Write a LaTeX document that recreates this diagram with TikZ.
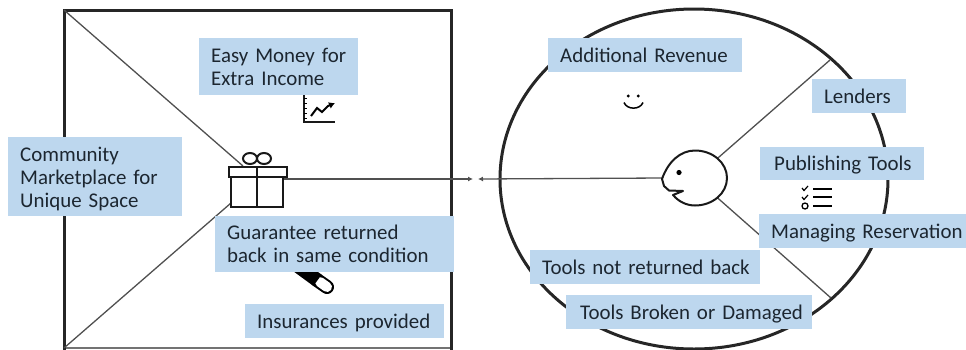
\documentclass[tikz,border=0pt]{standalone}
\usepackage{fontspec}
\setmainfont{Carlito}
\usetikzlibrary{arrows.meta,shapes.geometric}
\definecolor{boxblue}{HTML}{BDD7EE}
\definecolor{inktext}{HTML}{1C2630}
\definecolor{linegrey}{HTML}{505050}
\newcommand{\ind}{\hspace*{12pt}}
\newcommand{\topup}{\rule{0pt}{19pt}}
\tikzset{
  infobox/.style={fill=boxblue,draw=none,anchor=north west,inner xsep=0pt,inner ysep=0pt,align=left,
    text=inktext,font=\fontsize{20.9}{23}\selectfont},
  oneline/.style={infobox,text depth=0pt},
  thinlink/.style={draw=linegrey,line width=1.3pt},
  frameline/.style={draw=black!85,line width=3pt},
  icon/.style={draw=black!90,line width=2pt},
}
\begin{document}
\begin{tikzpicture}[x=1pt,y=-1pt]
\useasboundingbox (0,0) rectangle (966,349);
% named frame points
\coordinate (nw) at (64,10);
\coordinate (ne) at (451,10);
\coordinate (se) at (451,348);
\coordinate (sw) at (64,348);
\coordinate (giftA) at (243,166);
\coordinate (giftB) at (231,203);
\coordinate (giftR) at (283,179);
\coordinate (tipR) at (473,179);
\coordinate (tipL) at (478,179);
\coordinate (rimA) at (830,60);
\coordinate (rimB) at (831,298);
% square
\draw[draw=black!55,line width=1.5pt] (sw) -- (se);
\draw[frameline,line cap=rect] (sw) -- (nw) -- (ne) -- (se);
% circle
\node[ellipse,draw=black!85,line width=3pt,minimum width=388pt,minimum height=340pt,inner sep=0pt] (ring) at (694,179) {};
% face
\node[ellipse,minimum width=64pt,minimum height=55pt,inner sep=0pt] (face) at (695,178) {};
% connectors
\draw[thinlink] (nw) -- (giftA);
\draw[thinlink] (sw) -- (giftB);
\draw[thinlink,-{Latex[length=5pt,width=5pt]}] (giftR) -- (tipR);
\draw[thinlink,-{Latex[length=5pt,width=5pt]}] (face.west) -- (tipL);
\draw[thinlink] (face) -- (rimA);
\draw[thinlink] (face) -- (rimB);
% head outline
\draw[icon,fill=white,line join=round] (673,195) .. controls (679,202) and (687,205.5) .. (695,205.5)
  .. controls (712.7,205.5) and (727,193.2) .. (727,178)
  .. controls (727,162.8) and (712.7,150.5) .. (695,150.5)
  .. controls (680,150.5) and (668,162) .. (662,179)
  -- (664,186) -- (669,190.5) -- (683,191) -- cycle;
\fill[black] (679,172.5) circle (2.6pt);
% gift
\node[minimum width=52pt,minimum height=30pt,inner sep=0pt] (gift) at (257,192) {};
\draw[icon,fill=white] (231,177) rectangle (283,207);
\draw[icon,fill=white] (228.5,167) rectangle (286.5,176.5);
\draw[icon] (257,167) -- (257,207);
\draw[icon] (250,158.5) ellipse (7pt and 5.5pt);
\draw[icon] (264,158.5) ellipse (7pt and 5.5pt);
% chart icon
\draw[icon] (303.5,95) -- (303.5,122) -- (335,122);
\foreach \yy in {98,103,108,113,118} \draw[draw=black,line width=1pt] (303.5,\yy) -- (306.5,\yy);
\draw[draw=black,line width=2pt,-{Latex[length=6pt,width=7pt]}] (311,116) -- (317,108) -- (322,112) -- (328,106) -- (335,103);
% pill icon (under the box)
\draw[draw=black,line width=14pt,line cap=round] (327,287) -- (317,280);
\draw[draw=white,line width=10pt,line cap=round] (327,287) -- (320,282);
\draw[draw=black,line width=14pt] (317.5,280.3) -- (298,266);
% smile icon
\fill[black] (628.3,96) circle (1.6pt);
\fill[black] (638.3,96) circle (1.6pt);
\draw[draw=black,line width=1.5pt] (624,102.5) .. controls (627,110) and (640,110) .. (643,102.5);
% checklist icon
\foreach \yy in {189,197,206} \draw[draw=black,line width=2pt] (813,\yy) -- (832,\yy);
\draw[draw=black,line width=1.2pt] (802,188) -- (804,190.5) -- (808,186);
\draw[draw=black,line width=1.2pt] (802,197) -- (804,199.5) -- (808,195);
\draw[draw=black,line width=1.3pt] (805,206) circle (3pt);
% boxes
\node[infobox,text width=159pt,minimum height=57pt] (easy) at (199,38) {\ind Easy Money for\\\ind Extra Income};
\node[infobox,text width=174pt,minimum height=79pt] (comm) at (8,137) {\topup\ind Community\\\ind Marketplace for\\\ind Unique Space};
\node[infobox,text width=239pt,minimum height=56pt] (guar) at (215,216) {\ind Guarantee returned\\\ind back in same condition};
\node[oneline,text width=199pt,minimum height=34pt] (insu) at (245,304) {\ind Insurances provided};
\node[oneline,text width=194pt,minimum height=34pt] (addi) at (548,38) {\ind Additional Revenue};
\node[oneline,text width=94pt,minimum height=34pt] (lend) at (812,79) {\ind Lenders};
\node[oneline,text width=164pt,minimum height=33pt] (publ) at (760,147) {\hspace*{14pt}Publishing Tools};
\node[oneline,text width=207pt,minimum height=34pt] (mana) at (759,214) {\ind Managing Reservation};
\node[oneline,text width=230pt,minimum height=34pt] (notr) at (530,250) {\ind Tools not returned back};
\node[oneline,text width=246pt,minimum height=34pt] (brok) at (566,295) {\hspace*{14pt}Tools Broken or Damaged};
\end{tikzpicture}
\end{document}
